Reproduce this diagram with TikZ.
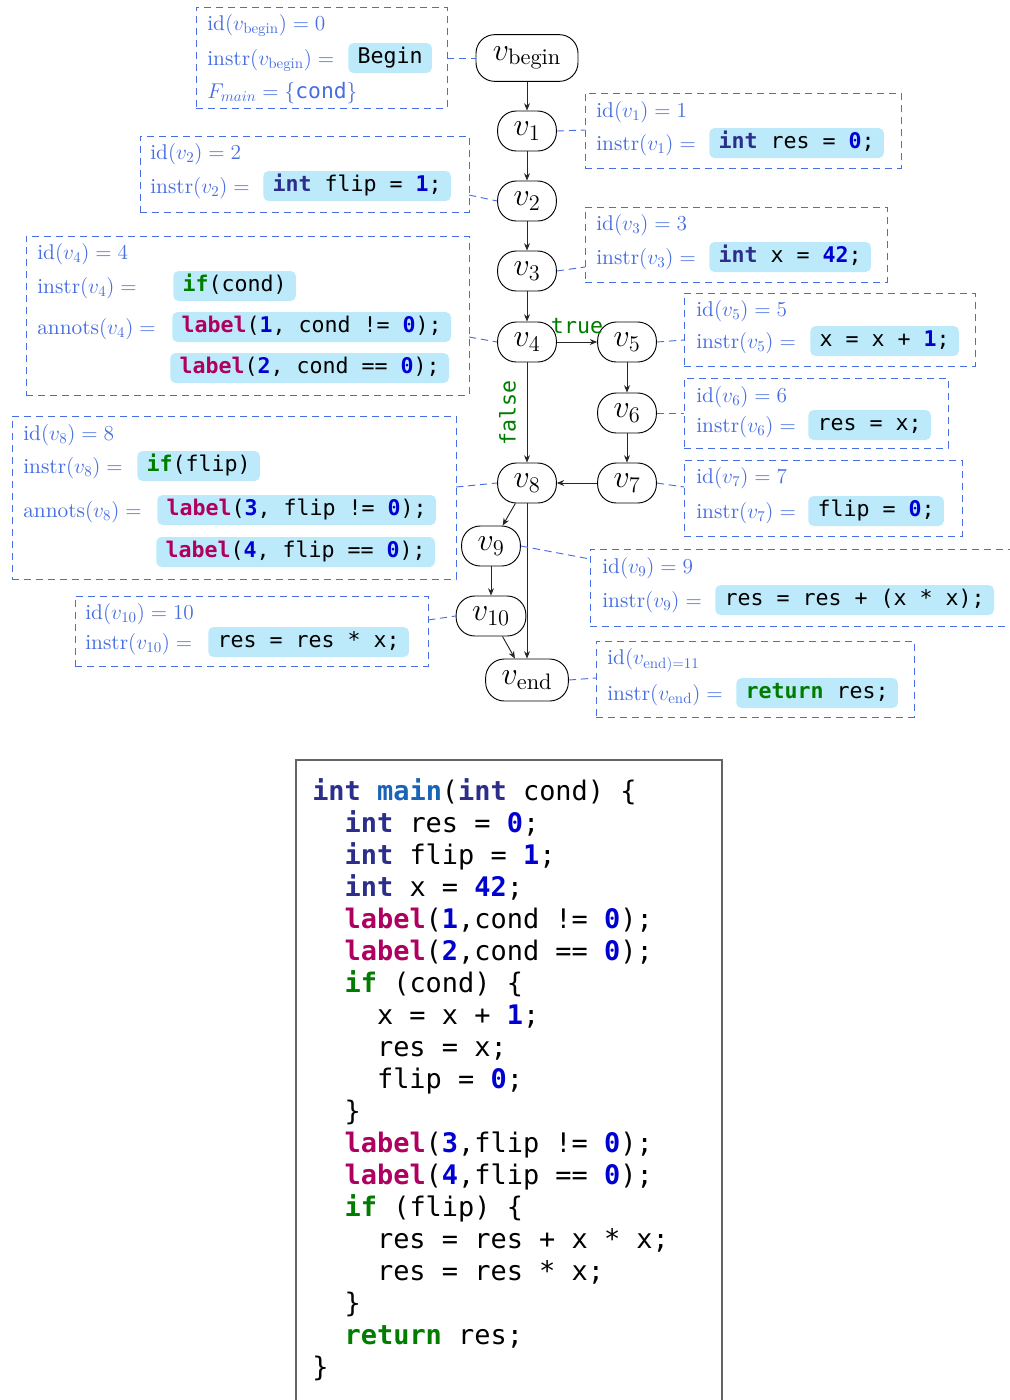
\documentclass[tikz,border=0pt]{standalone}
\usepackage{fix-cm}
\usepackage{fontspec}
\setmainfont{lmroman10-regular.otf}[BoldFont=lmroman10-bold.otf, ItalicFont=lmroman10-italic.otf, BoldItalicFont=lmroman10-bolditalic.otf]
\newfontfamily\codefont{DejaVu Sans Mono}
\usetikzlibrary{arrows.meta,fit}
\definecolor{ann}{RGB}{70,110,225}
\definecolor{codebg}{RGB}{188,234,250}
\definecolor{kwblue}{RGB}{44,46,140}
\definecolor{fnblue}{RGB}{25,100,185}
\definecolor{numblue}{RGB}{0,0,210}
\definecolor{lblmag}{RGB}{175,0,95}
\definecolor{kwgreen}{RGB}{0,125,0}
\definecolor{framegray}{RGB}{100,100,100}
\newcommand\KI[1]{{\bfseries\color{kwblue}#1}}
\newcommand\KF[1]{{\bfseries\color{fnblue}#1}}
\newcommand\KN[1]{{\bfseries\color{numblue}#1}}
\newcommand\KL[1]{{\bfseries\color{lblmag}#1}}
\newcommand\KG[1]{{\bfseries\color{kwgreen}#1}}
\tikzset{
  cfg/.style={draw=black, line width=0.7pt, rounded corners=14pt, minimum height=30pt,
    inner xsep=12pt, inner ysep=2pt, font=\fontsize{24}{28}\selectfont},
  annbox/.style={draw=ann, dash pattern=on 5.5pt off 3.5pt, line width=0.7pt, inner sep=0pt},
  annline/.style={draw=ann, dash pattern=on 5.5pt off 3.5pt, line width=0.7pt},
  anntext/.style={text=ann, font=\fontsize{16}{19}\selectfont, anchor=west, inner sep=0pt,
    text height=13.25pt, text depth=1.75pt},
  codebox/.style={fill=codebg, rounded corners=4pt, anchor=west, inner xsep=7pt, inner ysep=3.5pt,
    text height=12pt, text depth=3.5pt, font=\codefont\fontsize{16.2}{19}\selectfont},
  flow/.style={draw=black!85, line width=0.7pt, -{Stealth[length=5.5pt,width=4.5pt]}},
  lst/.style={anchor=base west, inner sep=0pt, font=\codefont\fontsize{20.2}{24}\selectfont},
  brlabel/.style={text=kwgreen, font=\codefont\fontsize{16.2}{19}\selectfont, inner sep=2pt},
}
\begin{document}
\begin{tikzpicture}[x=0.75pt,y=-0.75pt]
\useasboundingbox (0,0) rectangle (1010,1400);

% CFG nodes
\node[cfg, minimum height=35pt, minimum width=76.5pt] (vB) at (527,58) {$v_{\mathrm{begin}}$};
\node[cfg] (v1) at (527,131) {$v_1$};
\node[cfg] (v2) at (527,201) {$v_2$};
\node[cfg] (v3) at (527,271) {$v_3$};
\node[cfg] (v4) at (527,342) {$v_4$};
\node[cfg] (v5) at (627,342) {$v_5$};
\node[cfg] (v6) at (627,413) {$v_6$};
\node[cfg] (v7) at (627,483) {$v_7$};
\node[cfg] (v8) at (527,483) {$v_8$};
\node[cfg] (v9) at (491,546) {$v_9$};
\node[cfg] (v10) at (491,616) {$v_{10}$};
\node[cfg, minimum width=61pt, minimum height=31.5pt] (vE) at (527,680) {$v_{\mathrm{end}}$};

% flow edges
\draw[flow] (vB) -- (v1);
\draw[flow] (v1) -- (v2);
\draw[flow] (v2) -- (v3);
\draw[flow] (v3) -- (v4);
\draw[flow] (v4) -- node[brlabel, above=3.5pt] (lt) {true} (v5);
\draw[flow] (v4) -- node[brlabel, midway, anchor=south, rotate=90, inner ysep=8pt] (lf) {false} (v8);
\draw[flow] (v5) -- (v6);
\draw[flow] (v6) -- (v7);
\draw[flow] (v7) -- (v8);
\draw[flow] (v8) -- (v9);
\draw[flow] (v9) -- (v10);
\draw[flow] (v10) -- (vE);
\draw[flow] (v8.south) -- (vE.north);

% annotation boxes
\node[annbox, fit={(196,7) (447,108)}] (bB) {};
\node[annbox, fit={(585,93) (901,168)}] (b1) {};
\node[annbox, fit={(140,136) (469,212)}] (b2) {};
\node[annbox, fit={(585,207) (887,282)}] (b3) {};
\node[annbox, fit={(26,236) (469,395)}] (b4) {};
\node[annbox, fit={(684,293) (975,366)}] (b5) {};
\node[annbox, fit={(684,378) (948,448)}] (b6) {};
\node[annbox, fit={(684,460) (962,536)}] (b7) {};
\node[annbox, fit={(12,416) (456,579)}] (b8) {};
\node[annbox, fit={(590,549) (1016,626)}] (b9) {};
\node[annbox, fit={(75,596) (428,666)}] (b10) {};
\node[annbox, fit={(596,641) (914,717)}] (bE) {};

% connectors
\coordinate (cB) at (447,58);
\coordinate (c1) at (585,130);
\coordinate (c2) at (469,195);
\coordinate (c3) at (585,267);
\coordinate (c4) at (469,337);
\coordinate (c5) at (684,340);
\coordinate (c6) at (684,413);
\coordinate (c7) at (684,487);
\coordinate (c8) at (456,487);
\coordinate (c9) at (590,559);
\coordinate (c10) at (428,620);
\coordinate (cE) at (596,678);
\draw[annline] (cB) -- (vB.west);
\draw[annline] (v1.east) -- (c1);
\draw[annline] (c2) -- (v2.west);
\draw[annline] (v3.east) -- (c3);
\draw[annline] (c4) -- (v4.west);
\draw[annline] (v5.east) -- (c5);
\draw[annline] (v6.east) -- (c6);
\draw[annline] (v7.east) -- (c7);
\draw[annline] (c8) -- (v8.west);
\draw[annline] (v9.east) -- (c9);
\draw[annline] (c10) -- (v10.west);
\draw[annline] (vE.east) -- (cE);

% begin box
\node[anntext] (tB1) at (207,23) {$\mathrm{id}(v_{\mathrm{begin}}) = 0$};
\node[anntext] (tB2) at (207,58) {$\mathrm{instr}(v_{\mathrm{begin}}) =$};
\node[codebox] (kB) at (348,58) {Begin};
\node[anntext] (tB3) at (207,91) {$F_{main} = \{${\codefont cond}$\}$};
% v1
\node[anntext] (t11) at (596,110) {$\mathrm{id}(v_1) = 1$};
\node[anntext] (t12) at (596,143) {$\mathrm{instr}(v_1) =$};
\node[codebox] (k1) at (709,143) {\KI{int} res = \KN{0};};
% v2
\node[anntext] (t21) at (150,152) {$\mathrm{id}(v_2) = 2$};
\node[anntext] (t22) at (150,186) {$\mathrm{instr}(v_2) =$};
\node[codebox] (k2) at (263,186) {\KI{int} flip = \KN{1};};
% v3
\node[anntext] (t31) at (596,223) {$\mathrm{id}(v_3) = 3$};
\node[anntext] (t32) at (596,257) {$\mathrm{instr}(v_3) =$};
\node[codebox] (k3) at (709,257) {\KI{int} x = \KN{42};};
% v4
\node[anntext] (t41) at (37,252) {$\mathrm{id}(v_4) = 4$};
\node[anntext] (t42) at (37,286) {$\mathrm{instr}(v_4) =$};
\node[codebox] (k41) at (173,286) {\KG{if}(cond)};
\node[anntext] (t43) at (37,327) {$\mathrm{annots}(v_4) =$};
\node[codebox] (k42) at (172,327) {\KL{label}(\KN{1}, cond != \KN{0});};
\node[codebox] (k43) at (170,368) {\KL{label}(\KN{2}, cond == \KN{0});};
% v5
\node[anntext] (t51) at (696,309) {$\mathrm{id}(v_5) = 5$};
\node[anntext] (t52) at (696,341) {$\mathrm{instr}(v_5) =$};
\node[codebox] (k5) at (810,341) {x = x + \KN{1};};
% v6
\node[anntext] (t61) at (696,395) {$\mathrm{id}(v_6) = 6$};
\node[anntext] (t62) at (696,425) {$\mathrm{instr}(v_6) =$};
\node[codebox] (k6) at (808,425) {res = x;};
% v7
\node[anntext] (t71) at (696,476) {$\mathrm{id}(v_7) = 7$};
\node[anntext] (t72) at (696,511) {$\mathrm{instr}(v_7) =$};
\node[codebox] (k7) at (808,511) {flip = \KN{0};};
% v8
\node[anntext] (t81) at (23,433) {$\mathrm{id}(v_8) = 8$};
\node[anntext] (t82) at (23,466) {$\mathrm{instr}(v_8) =$};
\node[codebox] (k81) at (137,466) {\KG{if}(flip)};
\node[anntext] (t83) at (23,510) {$\mathrm{annots}(v_8) =$};
\node[codebox] (k82) at (157,510) {\KL{label}(\KN{3}, flip != \KN{0});};
\node[codebox] (k83) at (156,552) {\KL{label}(\KN{4}, flip == \KN{0});};
% v9
\node[anntext] (t91) at (602,566) {$\mathrm{id}(v_9) = 9$};
\node[anntext] (t92) at (602,600) {$\mathrm{instr}(v_9) =$};
\node[codebox] (k9) at (715,600) {res = res + (x * x);};
% v10
\node[anntext] (t101) at (85,612) {$\mathrm{id}(v_{10}) = 10$};
\node[anntext] (t102) at (85,642) {$\mathrm{instr}(v_{10}) =$};
\node[codebox] (k10) at (208,642) {res = res * x;};
% vend
\node[anntext] (tE1) at (607,657) {$\mathrm{id}(v_{\mathrm{end)=11}}$};
\node[anntext] (tE2) at (607,693) {$\mathrm{instr}(v_{\mathrm{end}}) =$};
\node[codebox] (kE) at (736,693) {\KG{return} res;};

% listing
\node[draw=framegray, line width=0.8pt, inner sep=0pt, fit={(296,760) (722,1410)}] (frm) {};
\node[lst] (l1) at (312,800) {\KI{int} \KF{main}(\KI{int} cond) \{};
\node[lst] (l2) at (344.4,832) {\KI{int} res = \KN{0};};
\node[lst] (l3) at (344.4,864) {\KI{int} flip = \KN{1};};
\node[lst] (l4) at (344.4,896) {\KI{int} x = \KN{42};};
\node[lst] (l5) at (344.4,928) {\KL{label}(\KN{1},cond != \KN{0});};
\node[lst] (l6) at (344.4,960) {\KL{label}(\KN{2},cond == \KN{0});};
\node[lst] (l7) at (344.4,992) {\KG{if} (cond) \{};
\node[lst] (l8) at (376.8,1024) {x = x + \KN{1};};
\node[lst] (l9) at (376.8,1056) {res = x;};
\node[lst] (l10) at (376.8,1088) {flip = \KN{0};};
\node[lst] (l11) at (344.4,1120) {\}};
\node[lst] (l12) at (344.4,1152) {\KL{label}(\KN{3},flip != \KN{0});};
\node[lst] (l13) at (344.4,1184) {\KL{label}(\KN{4},flip == \KN{0});};
\node[lst] (l14) at (344.4,1216) {\KG{if} (flip) \{};
\node[lst] (l15) at (376.8,1248) {res = res + x * x;};
\node[lst] (l16) at (376.8,1280) {res = res * x;};
\node[lst] (l17) at (344.4,1312) {\}};
\node[lst] (l18) at (344.4,1344) {\KG{return} res;};
\node[lst] (l19) at (312,1376) {\}};
\end{tikzpicture}
\end{document}
